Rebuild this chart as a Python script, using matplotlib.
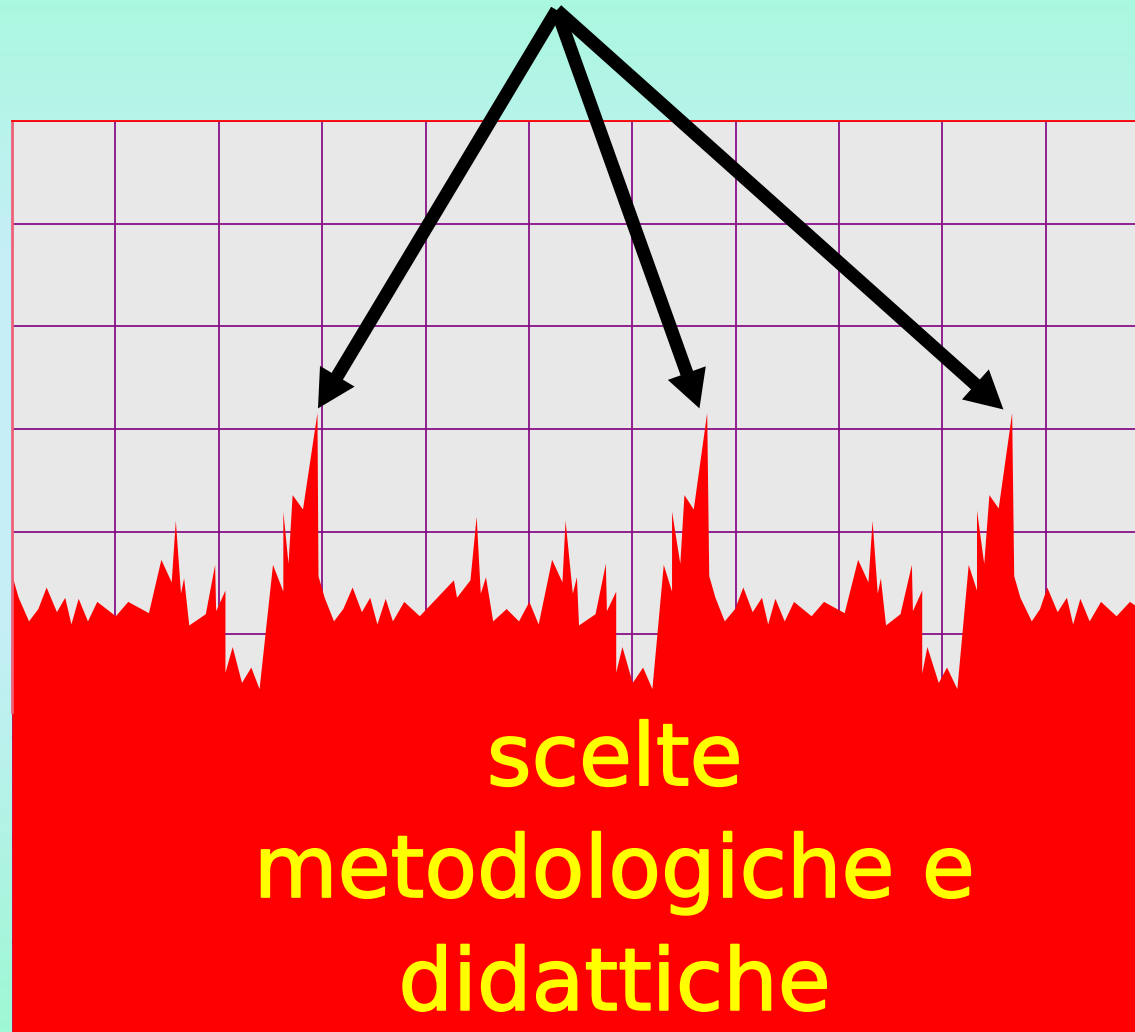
import numpy as np
import matplotlib.pyplot as plt
import matplotlib.patheffects as pe
from matplotlib.colors import LinearSegmentedColormap

# signal (x: time units, y: amplitude)
x_vals = [0.0, 0.6, 1.6, 2.5, 3.3, 4.3, 5.1, 5.7, 6.4, 7.3, 8.2, 10.0, 11.2, 13.2,
          14.4, 15.4, 15.8, 16.3, 16.6, 17.1, 18.7, 19.6, 19.7, 20.6, 20.6, 21.3,
          22.2, 23.1, 23.9, 25.2, 26.2, 26.2, 26.7, 27.1, 28.1, 29.5, 29.6, 30.2,
          31.1, 32.0, 32.9, 33.8, 34.6, 35.3, 36.1, 36.8, 37.9, 39.4, 42.7, 43.0,
          44.3, 44.9, 45.3, 45.8, 46.5, 47.8, 49.0, 50.0, 50.9, 52.2, 53.2, 53.5,
          54.2, 54.6, 54.8, 56.4, 57.4, 57.5, 58.4, 58.4, 59.0, 60.0, 61.0, 61.9,
          63.0, 63.8, 63.8, 64.6, 65.0, 65.9, 67.2, 67.4, 68.0, 68.9, 69.9, 70.7,
          71.6, 72.5, 73.1, 73.8, 74.7, 75.6, 77.3, 78.5, 80.5, 81.8, 82.8, 83.2,
          83.7, 84.0, 84.5, 85.9, 87.0, 87.1, 88.0, 88.0, 88.5, 89.6, 90.4, 91.4,
          92.5, 93.3, 93.3, 94.0, 94.5, 95.4, 96.7, 96.9, 97.5, 98.6, 99.4, 100.1,
          101.1, 102.0, 102.6, 103.3, 104.2, 105.3, 106.8, 108.1, 109.1]
y_vals = [45.7, 43.6, 41.3, 42.5, 44.6, 42.2, 43.6, 41.0, 43.5, 41.3, 43.2, 41.8, 43.2, 42.1,
          47.3, 45.1, 51.1, 44.0, 45.5, 40.9, 42.0, 46.8, 42.3, 44.3, 36.3, 38.8,
          35.3, 36.8, 34.7, 46.8, 44.2, 52.0, 46.9, 53.6, 52.2, 61.6, 45.7, 43.6,
          41.3, 42.5, 44.6, 42.2, 43.6, 41.0, 43.5, 41.3, 43.2, 41.8, 45.3, 43.6,
          45.3, 51.5, 44.0, 45.6, 41.3, 42.5, 41.3, 43.2, 41.0, 47.3, 45.1, 51.1,
          44.0, 45.6, 40.9, 42.0, 46.9, 42.3, 44.2, 36.3, 38.8, 35.3, 36.8, 34.7,
          46.8, 44.2, 52.0, 46.9, 53.6, 52.2, 61.6, 45.7, 43.6, 41.3, 42.5, 44.6,
          42.2, 43.6, 41.0, 43.5, 41.3, 43.2, 41.8, 43.2, 42.1, 47.3, 45.1, 51.1,
          44.0, 45.5, 40.9, 42.0, 46.8, 42.3, 44.3, 36.2, 38.8, 35.3, 36.8, 34.7,
          46.8, 44.3, 52.1, 46.9, 53.6, 52.3, 61.6, 45.7, 43.6, 41.3, 42.5, 44.6,
          42.2, 43.6, 41.0, 43.5, 41.3, 43.2, 41.8, 43.2, 42.5]

# arrows: common tail and the three heads
arrow_tail = (52.7, 100.8)
arrow_tips = [(29.6, 62.0), (66.5, 62.0), (95.9, 61.9)]

lines = ["scelte", "metodologiche e", "didattiche"]
line_y = [25.3, 14.4, 3.4]

fig = plt.figure(figsize=(11.35, 10.32), dpi=100)

# background gradient
bg = fig.add_axes([0, 0, 1, 1], zorder=0)
cmap = LinearSegmentedColormap.from_list(
    "bg", [(0, "#aaf8df"), (0.25, "#c6eef7"), (0.6, "#c6eef7"), (1.0, "#9ef8d4")])
bg.imshow(np.linspace(0, 1, 256).reshape(-1, 1), cmap=cmap, aspect="auto",
          extent=[0, 1, 0, 1])
bg.set_axis_off()

ax = fig.add_axes([12 / 1135, 0, 1133 / 1135, 911 / 1032], zorder=1)
ax.set_facecolor("#e8e8e8")
ax.set_xlim(0, 109.6)
ax.set_ylim(1.25, 90)
ax.set_xticks(np.arange(0, 110, 10))
ax.set_yticks(np.arange(10, 91, 10))
ax.grid(True, color="#800080", lw=1.2)
ax.set_axisbelow(True)
ax.tick_params(length=0, labelleft=False, labelbottom=False)
for s in ["right", "bottom"]:
    ax.spines[s].set_visible(False)
ax.spines["top"].set_color("#ff0000")
ax.spines["top"].set_linewidth(1.3)
ax.spines["left"].set_color("#f06078")
ax.spines["left"].set_linewidth(2)
ax.spines["left"].set_bounds(32.4, 90)

ax.fill_between(x_vals, y_vals, -10, color="#ff0000", lw=0, zorder=2)

for tip in arrow_tips:
    ax.annotate("", xy=tip, xytext=arrow_tail, annotation_clip=False,
                arrowprops=dict(width=9.5, headwidth=29, headlength=27,
                                shrink=0, color="black", lw=0), zorder=5)

for txt, y in zip(lines, line_y):
    ax.text(58.3, y, txt, ha="center", va="baseline", color="#ffff00",
            fontsize=62, family="DejaVu Sans", zorder=6,
            path_effects=[pe.withStroke(linewidth=1.2, foreground="#ffff00")])

fig.savefig("out.png", dpi=100)
